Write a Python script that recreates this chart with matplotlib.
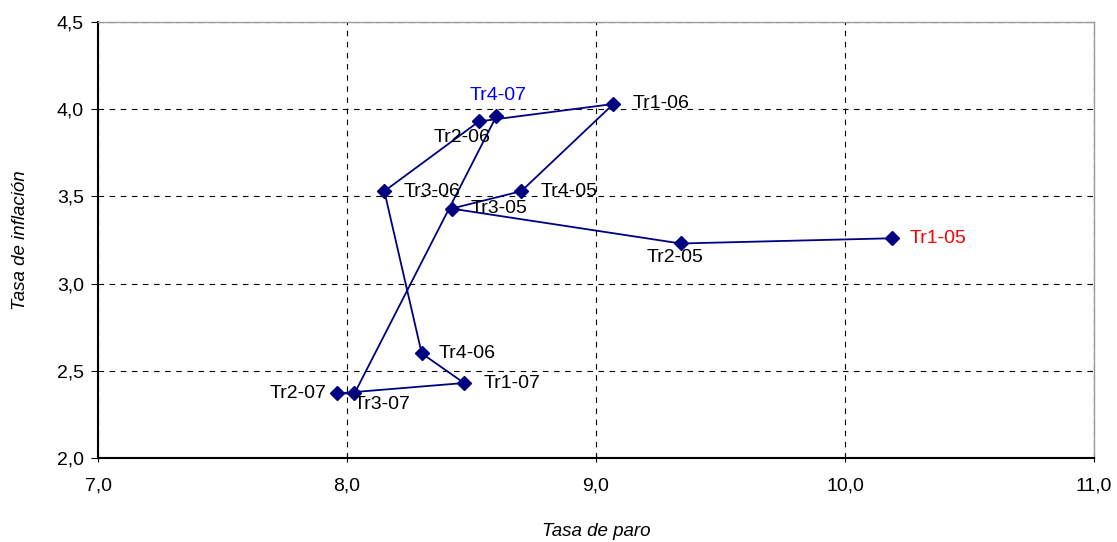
import matplotlib
matplotlib.use('Agg')
import matplotlib.pyplot as plt
from matplotlib.ticker import FuncFormatter

plt.rcParams['font.family'] = ['Liberation Sans', 'DejaVu Sans']

# trimestres, tasa de paro (x) y tasa de inflacion (y)
etiquetas = ['Tr1-05', 'Tr2-05', 'Tr3-05', 'Tr4-05',
             'Tr1-06', 'Tr2-06', 'Tr3-06', 'Tr4-06',
             'Tr1-07', 'Tr2-07', 'Tr3-07', 'Tr4-07']
paro = [10.19, 9.34, 8.42, 8.70, 9.07, 8.53, 8.15, 8.30, 8.47, 7.96, 8.03, 8.60]
inflacion = [3.26, 3.23, 3.43, 3.53, 4.03, 3.93, 3.53, 2.60, 2.43, 2.37, 2.37, 3.96]

# desplazamiento de las etiquetas (pixeles) y alineacion
despl = {
    'Tr1-05': (17, 0, 'left', 'center'),
    'Tr2-05': (-6, -14, 'center', 'center'),
    'Tr3-05': (19, 0, 'left', 'center'),
    'Tr4-05': (19, 0, 'left', 'center'),
    'Tr1-06': (19, 0, 'left', 'center'),
    'Tr2-06': (-17, -16, 'center', 'center'),
    'Tr3-06': (19, 0, 'left', 'center'),
    'Tr4-06': (17, 0, 'left', 'center'),
    'Tr1-07': (20, 0, 'left', 'center'),
    'Tr2-07': (-11, 0, 'right', 'center'),
    'Tr3-07': (28, -11, 'center', 'center'),
    'Tr4-07': (2, 21, 'center', 'center'),
}
colores = {'Tr1-05': '#ff0000', 'Tr4-07': '#0000ff'}

fig = plt.figure(figsize=(11.17, 5.42), dpi=100)
ax = fig.add_axes([98/1117, 1-458/542, (1094-98)/1117, (458-22)/542])

ax.plot(paro, inflacion, color='#000080', linewidth=1.3, marker='D',
        markersize=7.5, zorder=3)

for i, et in enumerate(etiquetas):
    dx, dy, ha, va = despl[et]
    ax.annotate(et, (paro[i], inflacion[i]), xytext=(dx, dy),
                textcoords='offset pixels', ha=ha, va=va, fontsize=14,
                color=colores.get(et, 'black'), zorder=4)

ax.set_xlim(7, 11)
ax.set_ylim(2, 4.5)
ax.set_xticks([7, 8, 9, 10, 11])
ax.set_yticks([2.0, 2.5, 3.0, 3.5, 4.0, 4.5])
fmt = FuncFormatter(lambda v, p: ('%.1f' % v).replace('.', ','))
ax.xaxis.set_major_formatter(fmt)
ax.yaxis.set_major_formatter(fmt)

ax.grid(True, color='black', linestyle=(0, (5, 5)), linewidth=0.8, zorder=1)
ax.set_axisbelow(True)
for s in ['top', 'right']:
    ax.spines[s].set_color('#999999')
    ax.spines[s].set_linewidth(1)
for s in ['left', 'bottom']:
    ax.spines[s].set_color('black')
    ax.spines[s].set_linewidth(1.5)

ax.tick_params(axis='y', direction='out', length=5, labelsize=14, pad=5)
ax.tick_params(axis='x', direction='inout', length=6, labelsize=14, pad=11)

ax.set_xlabel('Tasa de paro', fontsize=13.5, style='italic')
ax.set_ylabel('Tasa de inflación', fontsize=13.5, style='italic')
ax.xaxis.set_label_coords(0.5, -0.148)
ax.yaxis.set_label_coords(-0.069, 0.5)

fig.savefig('out.png', dpi=100)
